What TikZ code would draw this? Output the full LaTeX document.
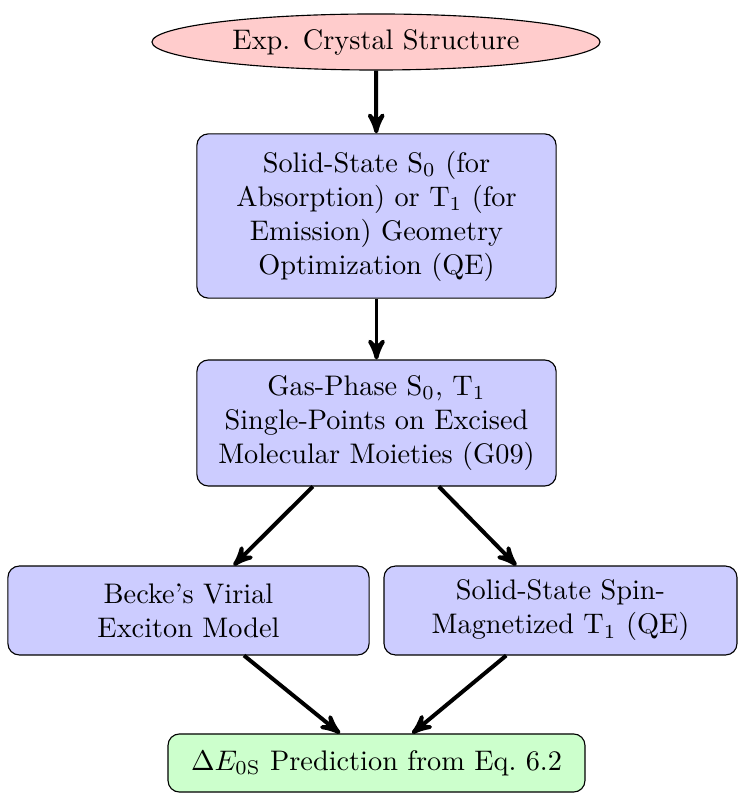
\documentclass[tikz,border=0pt]{standalone}
\usetikzlibrary{shapes.geometric,arrows}
\begin{document}
\begin{tikzpicture}[x=0.3533pt,y=-0.3533pt,
  startstop/.style={ellipse,draw,fill=red!20,inner sep=0pt,minimum width=158.3pt,minimum height=19.8pt},
  procbox/.style={rectangle,rounded corners,draw,fill=blue!20,align=center,inner sep=0pt},
  resultbox/.style={rectangle,rounded corners,draw,fill=green!20,align=center,inner sep=0pt},
  flow/.style={line width=1.4pt,-stealth'}]
\useasboundingbox (0,0) rectangle (738,794);
\node[startstop] (exp) at (376,42) {Exp. Crystal Structure};
\node[procbox,minimum width=126.9pt,minimum height=58pt] (opt) at (376.5,216)
  {Solid-State S$_0$ (for\\Absorption) or T$_1$ (for\\Emission) Geometry\\Optimization (QE)};
\node[procbox,minimum width=126.9pt,minimum height=44.5pt] (gas) at (376.5,423)
  {Gas-Phase S$_0$, T$_1$\\Single-Points on Excised\\Molecular Moieties (G09)};
\node[procbox,minimum width=127.6pt,minimum height=31.4pt] (becke) at (188.5,610.5)
  {Becke's Virial\\Exciton Model};
\node[procbox,minimum width=124.7pt,minimum height=31.4pt] (spin) at (560.5,610.5)
  {Solid-State Spin-\\Magnetized T$_1$ (QE)};
\node[resultbox,minimum width=147.3pt,minimum height=20.5pt] (pred) at (376.5,763)
  {$\Delta E_{0\mathrm{S}}$ Prediction from Eq.~6.2};
\draw[flow] (exp) -- (opt);
\draw[flow] (opt) -- (gas);
\draw[flow] (gas) -- (becke);
\draw[flow] (gas) -- (spin);
\draw[flow] (becke) -- (pred);
\draw[flow] (spin) -- (pred);
\end{tikzpicture}
\end{document}
